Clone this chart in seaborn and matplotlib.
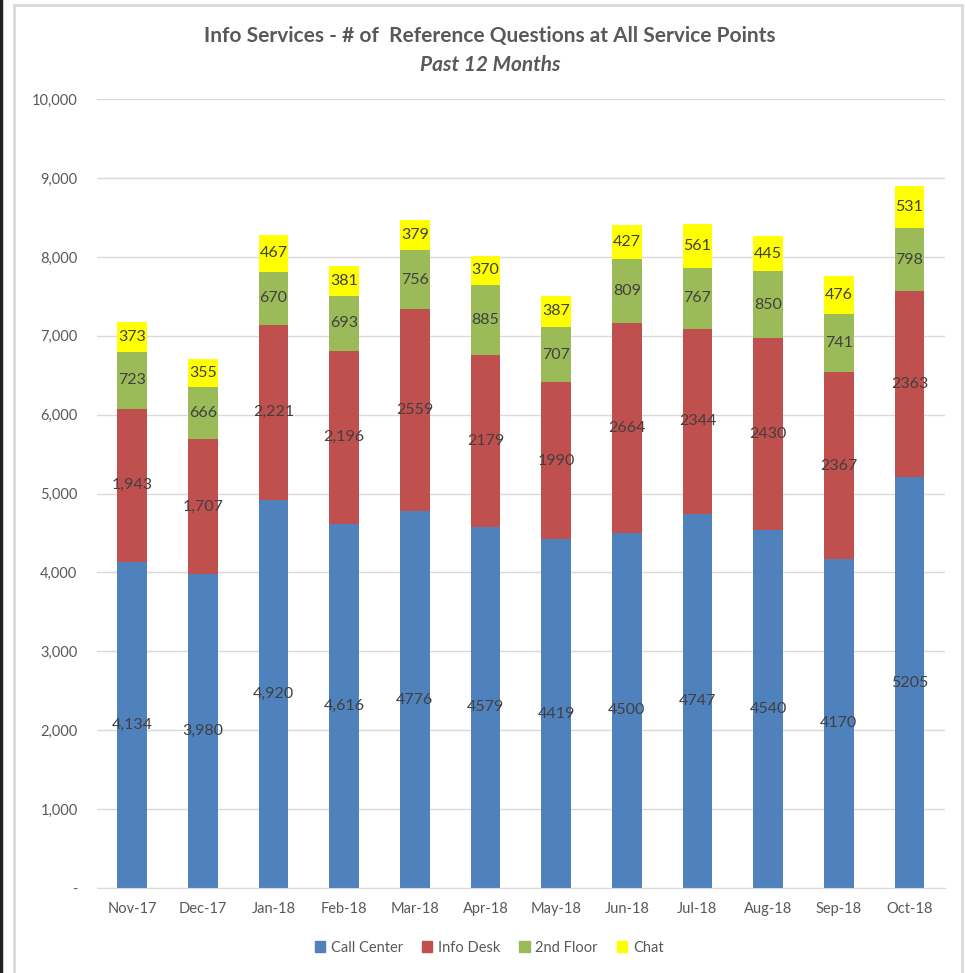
"""
Info Services - reference questions at all service points, stacked by month.
"""
import matplotlib
matplotlib.use("Agg")
import matplotlib.pyplot as plt
from matplotlib.patches import Rectangle
from matplotlib.lines import Line2D
import numpy as np
import pandas as pd
import seaborn as sns

months = ["Nov-17", "Dec-17", "Jan-18", "Feb-18", "Mar-18", "Apr-18",
          "May-18", "Jun-18", "Jul-18", "Aug-18", "Sep-18", "Oct-18"]
call_center = [4134, 3980, 4920, 4616, 4776, 4579, 4419, 4500, 4747, 4540, 4170, 5205]
info_desk = [1943, 1707, 2221, 2196, 2559, 2179, 1990, 2664, 2344, 2430, 2367, 2363]
second_floor = [723, 666, 670, 693, 756, 885, 707, 809, 767, 850, 741, 798]
chat = [373, 355, 467, 381, 379, 370, 387, 427, 561, 445, 476, 531]
series_names = ["Call Center", "Info Desk", "2nd Floor", "Chat"]
# the first four months were labelled with thousands separators
comma_months = 4

colors = ["#4F81BD", "#C0504D", "#9BBB59", "#FFFF00"]
text_dark = "#404040"
text_gray = "#595959"

sns.set_style("white")
plt.rcParams["font.family"] = ["Lato", "DejaVu Sans"]

df = pd.DataFrame({"month": months, "Call Center": call_center, "Info Desk": info_desk,
                   "2nd Floor": second_floor, "Chat": chat})

fig = plt.figure(figsize=(9.65, 9.73), dpi=100)
ax = fig.add_axes([0.1005, 0.0874, 0.8785, 0.8107])

bottom = np.zeros(len(months))
for name, col in zip(series_names, colors):
    vals = df[name].to_numpy()
    sns.barplot(x=df["month"], y=vals, bottom=bottom, color=col, width=0.42,
                saturation=1, linewidth=0, ax=ax, legend=False)
    labels = []
    for i, v in enumerate(vals):
        labels.append(f"{v:,}" if i < comma_months else f"{v}")
    ax.bar_label(ax.containers[-1], labels=labels, label_type="center",
                 fontsize=11.5, color=text_dark)
    bottom = bottom + vals

ax.set_ylim(0, 10000)
ax.set_xlim(-0.5, len(months) - 0.5)
ax.set_yticks(np.arange(0, 10001, 1000))
ax.set_yticklabels(["-"] + [f"{v:,}" for v in range(1000, 10001, 1000)],
                   fontsize=10.5, color=text_gray)
ax.yaxis.grid(True, color="#D9D9D9", linewidth=1)
ax.set_axisbelow(True)
ax.tick_params(axis="y", length=0, pad=14)
ax.tick_params(axis="x", which="major", length=0, labelsize=10.5,
               labelcolor=text_gray, pad=10)
ax.set_xticks(np.arange(-0.5, len(months)), minor=True)
ax.tick_params(axis="x", which="minor", length=6, color="#D9D9D9", width=1)
ax.set_xlabel("")
ax.set_ylabel("")
for s in ["top", "right", "left"]:
    ax.spines[s].set_visible(False)
ax.spines["bottom"].set_color("#D9D9D9")

fig.text(0.508, 0.963, "Info Services - # of  Reference Questions at All Service Points",
         ha="center", va="center", fontsize=15, fontweight="bold", color=text_gray)
fig.text(0.508, 0.933, "Past 12 Months", ha="center", va="center",
         fontsize=15, fontweight="bold", style="italic", color=text_gray)

handles = [Rectangle((0, 0), 1, 1, color=c) for c in colors]
fig.legend(handles, series_names, loc="center", bbox_to_anchor=(0.507, 0.026),
           ncol=4, frameon=False, fontsize=10.5, labelcolor=text_gray,
           handlelength=0.7, handleheight=0.7, handletextpad=0.4, columnspacing=1.3)

# chart frame and left window edge
fig.add_artist(Rectangle((14 / 965, -0.01), (962 - 14) / 965, 1 - 5 / 973 + 0.01,
                         transform=fig.transFigure, fill=False,
                         edgecolor="#D9D9D9", linewidth=2))
fig.add_artist(Line2D([0.0015, 0.0015], [0, 1], transform=fig.transFigure,
                      color="#222222", linewidth=2.5))

fig.savefig("out.png", dpi=100)
